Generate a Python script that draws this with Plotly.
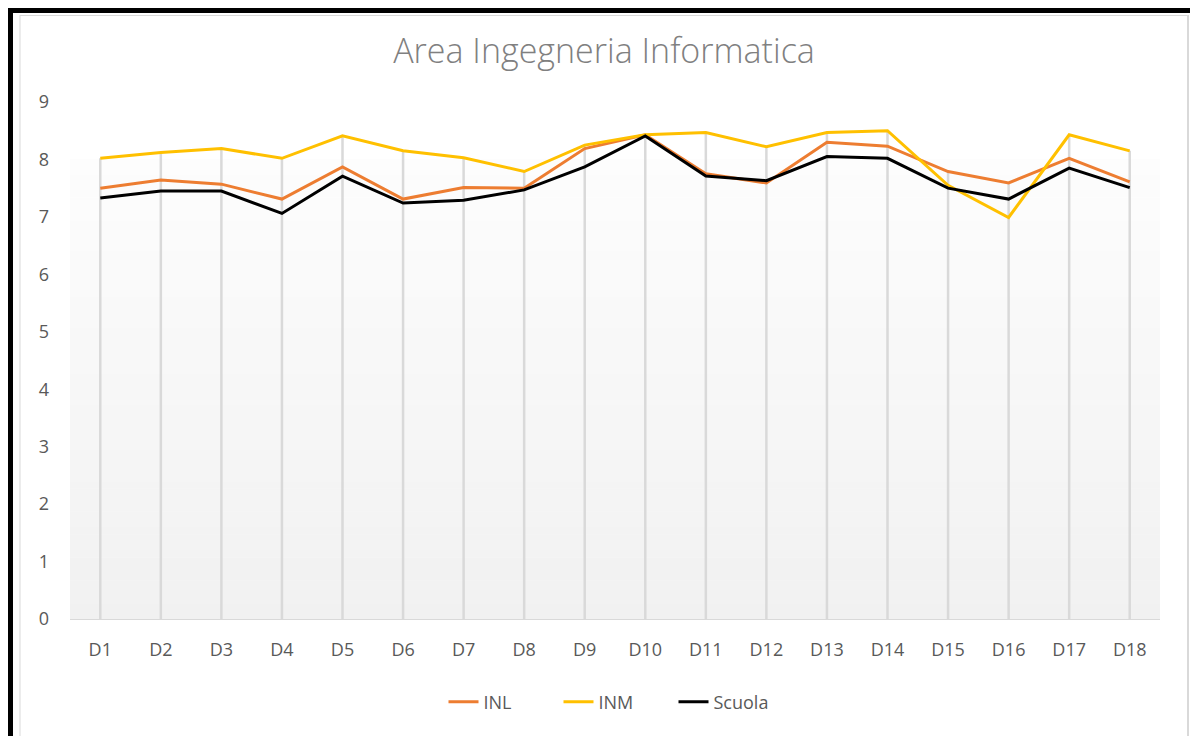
import plotly.graph_objects as go

categories = [f"D{i}" for i in range(1, 19)]
inl = [7.50, 7.64, 7.57, 7.31, 7.87, 7.31, 7.51, 7.50, 8.19, 8.43, 7.75, 7.59, 8.30, 8.23, 7.79, 7.59, 8.02, 7.61]
inm = [8.02, 8.12, 8.19, 8.02, 8.41, 8.15, 8.03, 7.79, 8.25, 8.43, 8.47, 8.22, 8.47, 8.50, 7.55, 6.99, 8.43, 8.15]
scuola = [7.33, 7.45, 7.45, 7.06, 7.71, 7.24, 7.29, 7.47, 7.87, 8.41, 7.71, 7.63, 8.05, 8.02, 7.50, 7.31, 7.85, 7.51]
series_names = ["INL", "INM", "Scuola"]
series_colors = ["#ED7D31", "#FFC000", "#000000"]
y_ticks = list(range(0, 10))

OFF = 8  # page body margin
W, H = 1198, 736
L, R, T, B = 70 - OFF, 38 + OFF, 102 - OFF, 117 + OFF
PW, PH = W - L - R, H - T - B

def px(x):
    return (x - OFF - L) / PW

def py(y):
    return 1 - (y - OFF - T) / PH

fig = go.Figure()

# drop lines from the highest value at each category to the axis
dx, dy = [], []
for c, a, b, s in zip(categories, inl, inm, scuola):
    dx += [c, c, None]
    dy += [0, max(a, b, s), None]
fig.add_trace(go.Scatter(x=dx, y=dy, mode="lines", line=dict(color="#d9d9d9", width=2.5),
                         showlegend=False, hoverinfo="skip"))

for name, vals, col in zip(series_names, [inl, inm, scuola], series_colors):
    fig.add_trace(go.Scatter(x=categories, y=vals, mode="lines", name=name,
                             line=dict(color=col, width=3)))

shapes = []
# gradient plot-area fill
n = 60
top_frac = 8 / 9
c_top, c_bot = 253, 241
for i in range(n):
    f0 = top_frac * i / n
    f1 = top_frac * (i + 1) / n
    t = (i + 0.5) / n
    v = round(c_bot + (c_top - c_bot) * t)
    col = f"rgb({v},{v},{v})"
    shapes.append(dict(type="rect", xref="paper", yref="paper", x0=0, x1=1, y0=f0, y1=f1 + 0.001,
                       fillcolor=col, line=dict(width=0), layer="below"))
# chart area border (light gray)
shapes.append(dict(type="line", xref="paper", yref="paper", x0=px(20), x1=px(20), y0=py(15), y1=py(760),
                   line=dict(color="#d9d9d9", width=1)))
shapes.append(dict(type="line", xref="paper", yref="paper", x0=px(20), x1=px(1188), y0=py(15.5), y1=py(15.5),
                   line=dict(color="#d9d9d9", width=1)))
shapes.append(dict(type="line", xref="paper", yref="paper", x0=px(1188), x1=px(1188), y0=py(15), y1=py(760),
                   line=dict(color="#d9d9d9", width=2)))
# outer black frame (left and top), drawn at the nearest visible position
shapes.append(dict(type="rect", xref="paper", yref="paper", x0=px(OFF - 2), x1=px(OFF + 5), y0=py(OFF - 2), y1=py(760),
                   fillcolor="#000000", line=dict(width=0)))
shapes.append(dict(type="rect", xref="paper", yref="paper", x0=px(OFF - 2), x1=px(1220), y0=py(OFF - 2), y1=py(OFF + 5),
                   fillcolor="#000000", line=dict(width=0)))

fig.update_layout(
    width=W, height=H,
    margin=dict(l=L, r=R, t=T, b=B),
    paper_bgcolor="white", plot_bgcolor="rgba(0,0,0,0)",
    font=dict(family="Open Sans, Lato, sans-serif", color="#595959", size=18),
    title=dict(text="Area Ingegneria Informatica", x=px(604), xanchor="center", xref="paper",
               y=1 - (51 - OFF) / H, yanchor="middle", yref="container",
               font=dict(size=34, color="#808080", weight=300)),
    shapes=shapes,
    showlegend=True,
    legend=dict(orientation="h", x=px(616), xanchor="center", xref="paper",
                y=py(702), yanchor="middle", font=dict(size=18, color="#595959"),
                entrywidth=70, entrywidthmode="pixels",
                bgcolor="rgba(0,0,0,0)"),
    xaxis=dict(type="category", categoryorder="array", categoryarray=categories,
               range=[-0.5, 17.5], showgrid=False, showline=True, linecolor="#d9d9d9", linewidth=1,
               ticks="", ticklabelstandoff=14, zeroline=False, fixedrange=True),
    yaxis=dict(range=[0, 9], tickvals=y_ticks, showgrid=False, zeroline=False, showline=False,
               ticks="", ticklabelstandoff=20, fixedrange=True),
)

fig.write_html("out.html")
